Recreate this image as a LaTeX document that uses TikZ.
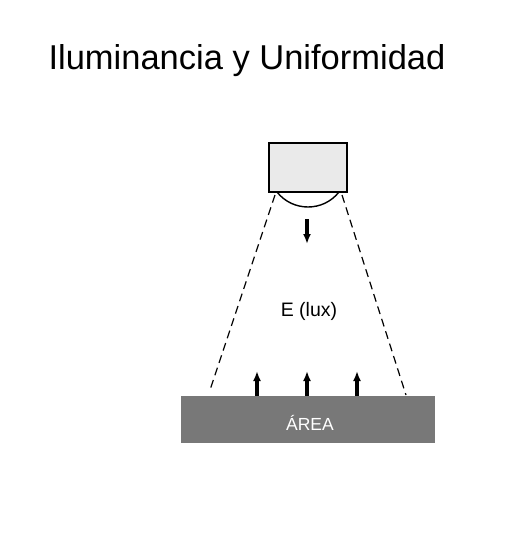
\documentclass[tikz,border=0pt]{standalone}
\usepackage{fontspec}
\setmainfont{Liberation Sans}
\usetikzlibrary{arrows.meta,positioning}

\definecolor{lampgray}{HTML}{EAEAEA}
\definecolor{areagray}{HTML}{787878}

\tikzset{
  lampbox/.style={draw, line width=1.4pt, fill=lampgray, rectangle,
                  minimum width=78pt, minimum height=49pt, inner sep=0pt},
  areabox/.style={fill=areagray, rectangle, minimum width=254pt,
                  minimum height=47pt, inner sep=0pt},
  beam/.style={line width=1.2pt, dash pattern=on 8pt off 5pt},
  flux/.style={line width=3.2pt, -{Latex[length=10pt,width=8pt]}}
}

\begin{document}
\begin{tikzpicture}[x=1pt, y=-1pt]
      \useasboundingbox (0, 0) rectangle (520, 535);
      \node (title) [anchor=base west, font=\fontsize{34.5}{41}\selectfont]
            at (45, 69.3) {Iluminancia y Uniformidad};
      \node (lamp) [lampbox] at (308, 167.5) {};
      \node (area) [areabox] at (308, 419.5) {};
      \node (arealbl) [anchor=base, text=white, font=\fontsize{17.5}{21}\selectfont]
            at (310, 430) {ÁREA};
      \node (elux) [anchor=base, font=\fontsize{19.5}{23}\selectfont]
            at (309, 316.7) {E (lux)};
      % lens under the lamp
      \draw [line width=1.4pt] (277, 192) .. controls (292.8, 212) and (323.2, 212) .. (339, 192);
      % light cone
      \coordinate (beamL) at (275, 195);
      \coordinate (beamR) at (342, 195);
      \coordinate (footL) at (210, 390);
      \coordinate (footR) at (406, 395);
      \draw [beam] (beamL) -- (footL)
                   (beamR) -- (footR);
      % incident and received light
      \coordinate (dtop) at (307, 219);
      \coordinate (dtip) at (307, 244);
      \draw [flux] (dtop) -- (dtip);
      \foreach \x [count=\i] in {257, 307, 357} {
        \coordinate (tip\i) at (\x, 371);
        \draw [flux] (area.north -| tip\i) -- (tip\i);
      }
\end{tikzpicture}
\end{document}
